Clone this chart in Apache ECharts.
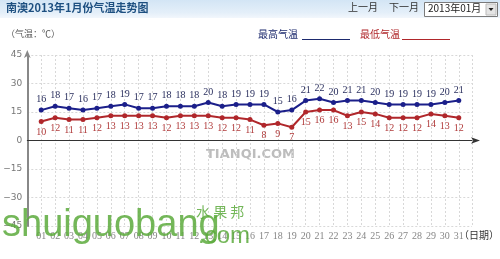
<!DOCTYPE html>
<html><head><meta charset="utf-8">
<script src="https://cdn.jsdelivr.net/npm/echarts@6/dist/echarts.min.js"></script>
<style>html,body{margin:0;padding:0;background:#fff}#c{width:500px;height:259px}</style>
</head><body><div id="c"></div>
<script>
const days = ['01','02','03','04','05','06','07','08','09','10','11','12','13','14','15','16','17','18','19','20','21','22','23','24','25','26','27','28','29','30','31'];
const highTemps = [16,18,17,16,17,18,19,17,17,18,18,18,20,18,19,19,19,15,16,21,22,20,21,21,20,19,19,19,19,20,21];
const lowTemps = [10,12,11,11,12,13,13,13,13,12,13,13,13,12,12,11,8,9,7,15,16,16,13,15,14,12,12,12,14,13,12];
const yTicks = [-45,-30,-15,0,15,30,45];

const chart = echarts.init(document.getElementById('c'), null, {renderer:'canvas'});
const cjk = '"Noto Sans CJK SC", sans-serif';
const serif = '"Liberation Serif", "DejaVu Serif", serif';
chart.setOption({
  animation:false,
  backgroundColor:'#fff',
  grid:{left:27.3, right:28, top:55, bottom:33, containLabel:false},
  xAxis:{
    type:'value', min:0, max:31.95, interval:1,
    axisLine:{onZero:true, lineStyle:{color:'#333', width:1}, symbol:['none','arrow'], symbolSize:[5,9], symbolOffset:[0,8]},
    axisTick:{show:false},
    axisLabel:{show:false},
    splitLine:{show:true, lineStyle:{color:'#d8d8d8', type:[2,2], width:1}}
  },
  yAxis:{
    type:'value', min:-45, max:45, interval:15,
    axisLine:{show:true, onZero:false, lineStyle:{color:'#888', width:2}, symbol:['none','arrow'], symbolSize:[5,8], symbolOffset:[0,5]},
    axisTick:{show:false},
    axisLabel:{color:'#777', fontSize:9, fontFamily:'"DejaVu Sans", sans-serif', margin:5,
      formatter:v=> yTicks.includes(v) ? String(v).replace('-','\u2212') : ''},
    splitLine:{show:true, lineStyle:{color:'#d8d8d8', type:[2,2], width:1}}
  },
  series:[
    {type:'line', data:highTemps.map((v,i)=>[i+1,v]), color:'#1b1f8a',
     lineStyle:{width:2, color:'#1b1f8a'}, symbol:'circle', symbolSize:5,
     itemStyle:{color:'#1b1f8a'},
     label:{show:true, position:'top', distance:3, color:'#2a2f5e', fontSize:10, fontFamily:serif}},
    {type:'line', data:lowTemps.map((v,i)=>[i+1,v]), color:'#b0272b',
     lineStyle:{width:2, color:'#b0272b'}, symbol:'circle', symbolSize:5,
     itemStyle:{color:'#b0272b'},
     label:{show:true, position:'bottom', distance:3, color:'#b03a3a', fontSize:10, fontFamily:serif}},
    {type:'scatter', data:days.map((d,i)=>[i+1,-45]), symbolSize:0, silent:true,
     label:{show:true, position:'bottom', distance:5, color:'#666', fontSize:10, fontFamily:serif,
       formatter:p=>days[p.dataIndex]}}
  ],
  graphic:[
    {type:'rect', shape:{x:0,y:0,width:500,height:18}, z:-1,
     style:{fill:new echarts.graphic.LinearGradient(0,0,0,1,[{offset:0,color:'#d3e5f5'},{offset:0.7,color:'#e4eff9'},{offset:1,color:'#f2f7fc'}])}},
    {type:'text', left:6, top:2, style:{text:'南澳2013年1月份气温走势图', fill:'#1d4f80', font:'bold 11px '+cjk}},
    {type:'text', left:348, top:2, style:{text:'上一月', fill:'#333', font:'10px '+cjk}},
    {type:'text', left:389, top:2, style:{text:'下一月', fill:'#333', font:'10px '+cjk}},
    {type:'rect', shape:{x:424.5,y:2.5,width:73,height:14}, style:{fill:'#fff', stroke:'#7a7a7a', lineWidth:1}},
    {type:'text', left:428, top:3, style:{text:'2013年01月', fill:'#222', font:'10px '+cjk}},
    {type:'rect', shape:{x:486,y:4,width:10,height:11}, style:{fill:'#e4e4e4', stroke:'#bbb', lineWidth:1}},
    {type:'polygon', shape:{points:[[488.5,8],[493.5,8],[491,11]]}, style:{fill:'#222'}},
    {type:'text', left:6, top:29, style:{text:'（气温：℃）', fill:'#555', font:'9px '+cjk}},
    {type:'text', left:258, top:29, style:{text:'最高气温', fill:'#1d2a6e', font:'10px '+cjk}},
    {type:'line', shape:{x1:302,y1:39.5,x2:350,y2:39.5}, style:{stroke:'#1d2a6e', lineWidth:1}},
    {type:'text', left:360, top:29, style:{text:'最低气温', fill:'#b0272b', font:'10px '+cjk}},
    {type:'line', shape:{x1:402,y1:39.5,x2:450,y2:39.5}, style:{stroke:'#b0272b', lineWidth:1}},
    {type:'text', left:459, top:230, z:50, style:{text:'（日期）', fill:'#333', font:'10px '+cjk, backgroundColor:'rgba(255,255,255,0)'}},
    {type:'text', left:206, top:148, style:{text:'TIANQI.COM', fill:'#bdbdbd', font:'bold 13px "DejaVu Sans", sans-serif'}},
    {type:'text', left:2, top:207, z:100, style:{text:'shuiguobang', fill:'rgba(92,170,60,0.85)', font:'38px "Liberation Sans", Arial, sans-serif'}},
    {type:'text', left:198, top:224, z:100, style:{text:'.com', fill:'rgba(92,170,60,0.85)', font:'24px "Liberation Sans", Arial, sans-serif'}},
    {type:'text', left:196, top:205, z:100, style:{text:'水 果 邦', fill:'rgba(92,170,60,0.85)', font:'14px "Noto Sans CJK SC", sans-serif'}}
  ]
});
</script></body></html>
